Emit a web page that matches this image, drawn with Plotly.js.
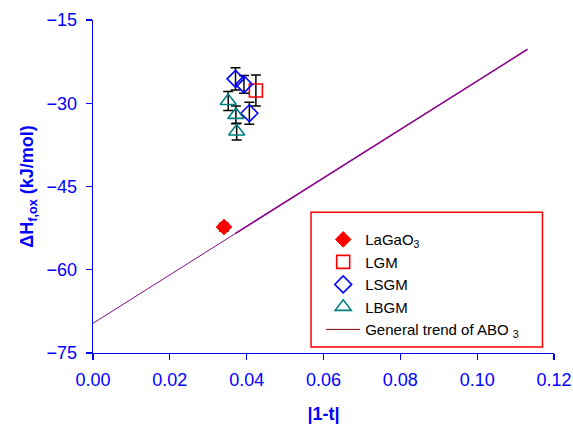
<!DOCTYPE html>
<html>
<head>
<meta charset="utf-8">
<script src="https://cdn.plot.ly/plotly-3.0.1.min.js"></script>
<style>html,body{margin:0;padding:0;background:#fff;}#chart{width:573px;height:426px;}</style>
</head>
<body>
<div id="chart"></div>
<script>
// Data
const lagaoX = [0.0341];
const lagaoY = [-52.3];
const lagaoErr = [0.7];

const lgmX = [0.0424];
const lgmY = [-27.7];
const lgmErr = [2.8];

const lsgmX = [0.0371, 0.0393, 0.0407];
const lsgmY = [-25.6, -26.6, -31.8];
const lsgmErr = [2.0, 1.6, 2.0];

const lbgmX = [0.0352, 0.0372, 0.0374];
const lbgmY = [-29.6, -32.1, -35.1];
const lbgmErr = [1.7, 1.6, 1.5];

const trendX = [0.0, 0.1131];
const trendY = [-69.65, -20.28];
const trendX2 = [0.037, 0.1131];
const trendY2 = [-53.5, -20.28];

const xTicks = [0, 0.02, 0.04, 0.06, 0.08, 0.10, 0.12];
const xTickText = ['0.00','0.02','0.04','0.06','0.08','0.10','0.12'];
const yTicks = [-75, -60, -45, -30, -15];

const errStyle = (arr) => ({type:'data', array: arr, visible:true, color:'#000', thickness:1.5, width:5});

const traces = [
  {x: trendX, y: trendY, mode:'lines', line:{color:'#8B0A8B', width:1}, showlegend:false, hoverinfo:'skip'},
  {x: trendX2, y: trendY2, mode:'lines', line:{color:'#8B0A8B', width:1.6}, showlegend:false, hoverinfo:'skip'},
  {x: lagaoX, y: lagaoY, mode:'markers', name:'LaGaO<sub>3</sub>',
   marker:{symbol:'diamond', size:12, color:'#ff0000', line:{color:'#ff0000', width:1}},
   error_y: errStyle(lagaoErr)},
  {x: lgmX, y: lgmY, mode:'markers', name:'LGM',
   marker:{symbol:'square-open', size:13, color:'#ff0000', line:{width:1.6}},
   error_y: errStyle(lgmErr)},
  {x: lsgmX, y: lsgmY, mode:'markers', name:'LSGM',
   marker:{symbol:'diamond-open', size:13, color:'#0000ff', line:{width:1.6}},
   error_y: errStyle(lsgmErr)},
  {x: lbgmX, y: lbgmY, mode:'markers', name:'LBGM',
   marker:{symbol:'triangle-up-open', size:14, color:'#008080', line:{width:1.6}},
   error_y: errStyle(lbgmErr)},
  {x: [null], y: [null], mode:'lines', name:'General trend of ABO <sub>3</sub>',
   line:{color:'#800000', width:1}}
];

const layout = {
  width: 573, height: 426,
  margin: {l: 93, r: 19, t: 20, b: 73},
  paper_bgcolor: '#fff', plot_bgcolor: '#fff',
  font: {family: 'Liberation Sans, Arial, sans-serif', color: '#0000ff', size: 18},
  showlegend: true,
  xaxis: {
    range: [0, 0.12], tickvals: xTicks, ticktext: xTickText,
    showgrid: false, zeroline: false, showline: true, linecolor: '#0000ff', linewidth: 1.3,
    ticks: 'outside', tickcolor: '#0000ff', ticklen: 6, tickwidth: 1.3, ticklabelstandoff: 4,
    tickfont: {size: 18, color: '#0000ff'},
    title: {text: '<b>|1-t|</b>', font: {size: 18, color: '#0000ff'}, standoff: 18}
  },
  yaxis: {
    range: [-75, -15], tickvals: yTicks,
    showgrid: false, zeroline: false, showline: true, linecolor: '#0000ff', linewidth: 1.3,
    ticks: 'outside', tickcolor: '#0000ff', ticklen: 6, tickwidth: 1.3, ticklabelstandoff: 5,
    tickfont: {size: 18, color: '#0000ff'},
    title: {text: '<b>\u0394H<sub>f,ox</sub> (kJ/mol)</b>', font: {size: 18, color: '#0000ff'}, standoff: 8}
  },
  legend: {
    x: 0.495, y: 0.39, xanchor: 'left', yanchor: 'top',
    bgcolor: 'rgba(0,0,0,0)', borderwidth: 0,
    font: {size: 15, color: '#000'}, itemwidth: 34, tracegroupgap: 0
  },
  shapes: [
    {type:'rect', xref:'paper', yref:'paper', x0: 0.473, x1: 0.975, y0: 0.018, y1: 0.423,
     line:{color:'#ff0000', width:1.5}, fillcolor:'rgba(0,0,0,0)', layer:'below'}
  ]
};

Plotly.newPlot('chart', traces, layout, {displayModeBar: false, staticPlot: true});
</script>
</body>
</html>
